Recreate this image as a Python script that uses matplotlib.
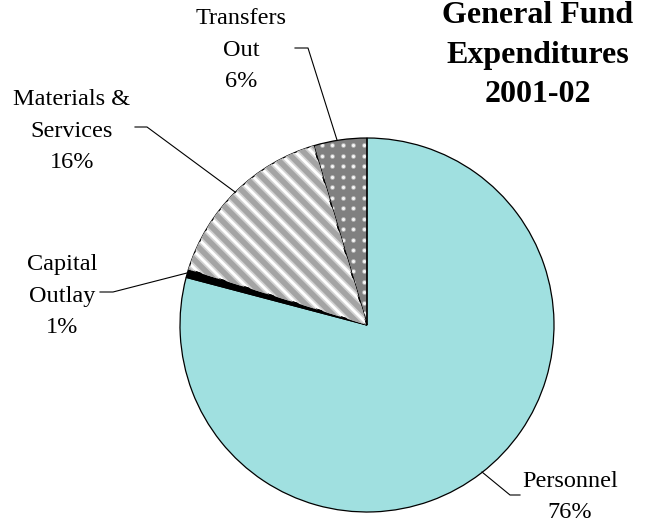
import numpy as np
import matplotlib.pyplot as plt

plt.rcParams['font.family'] = ['Liberation Serif', 'DejaVu Serif']

# canvas in pixels (image coords, y grows downward)
W, H = 655, 523

# slice data (clockwise from 12 o'clock)
categories = ['Personnel', 'Capital\nOutlay', 'Materials &\nServices', 'Transfers\nOut']
shares = [79.1, 0.7, 15.6, 4.6]          # wedge sizes as drawn
pct_labels = ['76%', '1%', '16%', '6%']   # percentages as printed
colors = ['#a0e0e0', '#000000', '#ffffff', '#808080']

title = 'General Fund\nExpenditures\n2001-02'

# layout
center = (367, 325)
radius = 187
label_pos = [(570, 518), (62, 333), (72, 168), (241, 87)]   # last-line baselines
leaders = [
    [(482, 472), (510, 495), (520, 495)],
    [(100, 292), (113, 292), (187, 273)],
    [(135, 127), (147, 127), (235, 192)],
    [(295, 48), (308, 48), (337, 140)],
]

fig = plt.figure(figsize=(W / 100, H / 100), dpi=100)
ax = fig.add_axes([0, 0, 1, 1])

# y axis is inverted below, so start at -90 and go "counterclockwise" in data
# which shows up clockwise from the top on screen
wedges, _ = ax.pie(shares, colors=colors, startangle=-90, counterclock=True,
                   center=center, radius=radius,
                   wedgeprops=dict(linewidth=0))

# diagonal stripes for Materials & Services
mat = wedges[2]
px = 0.72  # points per pixel
for c in np.arange(-700, 700, 16.7):
    xs = np.array([0, W])
    for col, lw in [('#d2d2d2', 9), ('#a4a4a4', 5.5)]:
        ln, = ax.plot(xs, xs - c, color=col, lw=lw * px, solid_capstyle='butt')
        ln.set_clip_path(mat)

# dotted texture for Transfers Out
tr = wedges[3]
gx, gy = np.meshgrid(np.arange(311, 370, 10.6), np.arange(145, 330, 10.5))
ax.scatter(gx.ravel(), gy.ravel(), s=12, color='#b8b8b8', linewidths=0).set_clip_path(tr)
ax.scatter(gx.ravel(), gy.ravel(), s=5, color='#f4f4f4', linewidths=0).set_clip_path(tr)

# outlines on top
ax.pie(shares, colors=['none'] * 4, startangle=-90, counterclock=True,
       center=center, radius=radius,
       wedgeprops=dict(edgecolor='black', linewidth=0.9, fill=False))

for cat, pct, (x, y) in zip(categories, pct_labels, label_pos):
    ax.text(x, y, cat + '\n' + pct, ha='center', va='baseline',
            fontsize=17.5, linespacing=1.65)

for pts in leaders:
    p = np.array(pts)
    ax.plot(p[:, 0], p[:, 1], color='black', lw=0.8)

ax.text(538, 102, title, ha='center', va='baseline', fontsize=23,
        fontweight='bold', linespacing=1.47)

ax.set_xlim(0, W)
ax.set_ylim(H, 0)
ax.set_aspect('equal')
ax.axis('off')

fig.savefig('out.png', dpi=100)
